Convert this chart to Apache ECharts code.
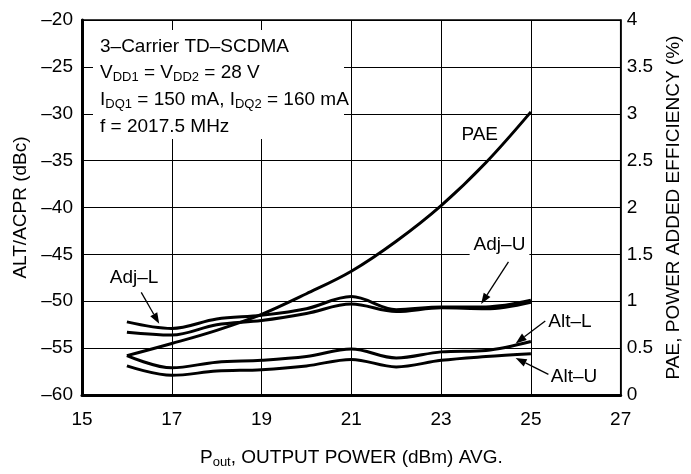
<!DOCTYPE html>
<html><head><meta charset="utf-8">
<script src="https://cdn.jsdelivr.net/npm/echarts@6/dist/echarts.min.js"></script>
<style>html,body{margin:0;padding:0;background:#fff}#c{width:691px;height:474px}</style>
</head><body><div id="c"></div>
<script>
// ---- data ----
const pout = [16, 17, 18, 19, 20, 21, 22, 23, 24, 25];
const adjL = [-52.2, -52.9, -51.9, -51.5, -50.8, -49.5, -50.9, -50.6, -50.6, -49.9];
const adjU = [-53.3, -53.6, -52.5, -52.05, -51.3, -50.3, -51.1, -50.7, -50.8, -50.1];
const altL = [-55.8, -57.1, -56.5, -56.3, -55.9, -55.1, -56.05, -55.4, -55.25, -54.3];
const altU = [-56.9, -57.9, -57.45, -57.3, -56.9, -56.2, -57.0, -56.3, -55.9, -55.6];
const pae  = [0.42, 0.55, 0.69, 0.86, 1.08, 1.32, 1.64, 2.02, 2.48, 3.02];
const xTicks = [15, 17, 19, 21, 23, 25, 27];
const leftTicks = [-60, -55, -50, -45, -40, -35, -30, -25, -20];
const rightTicks = [0, 0.5, 1, 1.5, 2, 2.5, 3, 3.5, 4];

const FF = "'Liberation Sans Narrow', 'Liberation Sans', Arial, sans-serif";
const FS = 19;
const pairs = a => pout.map((x, i) => [x, a[i]]);
const dash = v => String(v).replace('-', '\u2013');

const chart = echarts.init(document.getElementById('c'), null, {renderer: 'canvas'});
const lineSeries = (name, arr, yIdx) => ({
  name, type: 'line', yAxisIndex: yIdx, data: pairs(arr), smooth: 0.35,
  symbol: 'none', lineStyle: {color: '#000', width: 3}, z: 3
});

chart.setOption({
  animation: false,
  grid: {left: 82, right: 65, top: 20, bottom: 71, show: true, borderColor: '#000', borderWidth: 1.5, backgroundColor: 'transparent'},
  xAxis: {
    type: 'value', min: xTicks[0], max: xTicks[xTicks.length - 1],
    axisLine: {show: true, onZero: false, lineStyle: {color: '#000', width: 3}},
    axisTick: {show: false, customValues: xTicks},
    axisLabel: {customValues: xTicks, margin: 15, color: '#000', fontSize: FS, fontFamily: FF},
    splitLine: {show: true, lineStyle: {color: '#000', width: 1}},
    name: '{n|P}{s|out}{n|, OUTPUT POWER (dBm) AVG.}',
    nameLocation: 'middle', nameGap: 52,
    nameTextStyle: {rich: {
      n: {fontSize: FS, fontFamily: FF, color: '#000', lineHeight: 22},
      s: {fontSize: 13, fontFamily: FF, color: '#000', lineHeight: 10, verticalAlign: 'bottom'}
    }}
  },
  yAxis: [{
    type: 'value', position: 'left', min: leftTicks[0], max: leftTicks[leftTicks.length - 1], interval: 5,
    axisLine: {show: true, onZero: false, lineStyle: {color: '#000', width: 3}},
    axisTick: {show: false},
    axisLabel: {margin: 9, color: '#000', fontSize: FS, fontFamily: FF, formatter: dash},
    splitLine: {show: true, lineStyle: {color: '#000', width: 1}},
    name: 'ALT/ACPR (dBc)', nameLocation: 'middle', nameGap: 48, nameRotate: 90,
    nameTextStyle: {fontSize: FS, fontFamily: FF, color: '#000'}
  }, {
    type: 'value', position: 'right', min: rightTicks[0], max: rightTicks[rightTicks.length - 1], interval: 0.5,
    axisLine: {show: true, onZero: false, lineStyle: {color: '#000', width: 1.5}},
    axisTick: {show: false},
    axisLabel: {margin: 6, color: '#000', fontSize: FS, fontFamily: FF},
    splitLine: {show: false},
    name: 'PAE, POWER ADDED EFFICIENCY (%)', nameLocation: 'middle', nameGap: 28, nameRotate: 90,
    nameTextStyle: {fontSize: FS, fontFamily: FF, color: '#000', verticalAlign: 'top'}
  }],
  series: [
    lineSeries('Adj-L', adjL, 0),
    lineSeries('Adj-U', adjU, 0),
    lineSeries('Alt-L', altL, 0),
    lineSeries('Alt-U', altU, 0),
    lineSeries('PAE', pae, 1)
  ]
});

// ---- annotations ----
const px = (x, y) => chart.convertToPixel({gridIndex: 0}, [x, y]);
const g = [];
const richBox = {
  n: {fontSize: FS, fontFamily: FF, fill: '#000', lineHeight: 22},
  s: {fontSize: 13, fontFamily: FF, fill: '#000', lineHeight: 10, verticalAlign: 'bottom'}
};
g.push({type: 'rect', shape: {x: 93, y: 30, width: 251, height: 109}, style: {fill: '#fff'}, z: 1});
const boxLines = [
  '{n|3\u2013Carrier TD\u2013SCDMA}',
  '{n|V}{s|DD1}{n| = V}{s|DD2}{n| = 28 V}',
  '{n|I}{s|DQ1}{n| = 150 mA, I}{s|DQ2}{n| = 160 mA}',
  '{n|f = 2017.5 MHz}'
];
const boxY = [46.7, 73.2, 99.8, 126.5];
boxLines.forEach((t, i) => g.push({type: 'text', x: 100, y: boxY[i], z: 10,
  style: {text: t, rich: richBox, verticalAlign: 'middle', align: 'left', fill: '#000'}}));

function label(text, x, y, bg) {
  const p = px(x, y);
  g.push({type: 'text', x: p[0], y: p[1], z: 10, style: {text, font: FS + 'px ' + FF, fill: '#000',
    align: 'center', verticalAlign: 'middle', backgroundColor: bg ? '#fff' : null, padding: bg ? [0, 4, 3, 4] : 0}});
}
function arrow(x1, y1, x2, y2) {
  const a = px(x1, y1), b = px(x2, y2);
  const dx = b[0] - a[0], dy = b[1] - a[1], L = Math.hypot(dx, dy), ux = dx / L, uy = dy / L;
  const hl = 11, hw = 4;
  const bx = b[0] - ux * hl, by = b[1] - uy * hl;
  g.push({type: 'line', z: 10, shape: {x1: a[0], y1: a[1], x2: bx, y2: by}, style: {stroke: '#000', lineWidth: 1.3}});
  g.push({type: 'polygon', z: 10, shape: {points: [[b[0], b[1]], [bx - uy * hw, by + ux * hw], [bx + uy * hw, by - ux * hw]]}, style: {fill: '#000'}});
}
label('PAE', 23.86, -32.2, false);
label('Adj\u2013U', 24.3, -44.0, true);
arrow(24.5, -45.8, 23.89, -50.3);
label('Adj\u2013L', 16.16, -47.5, false);
arrow(16.32, -49.05, 16.72, -52.4);
label('Alt\u2013L', 25.87, -52.2, false);
arrow(25.32, -52.1, 24.66, -54.5);
label('Alt\u2013U', 25.96, -58.1, false);
arrow(25.39, -57.8, 24.66, -56.05);
chart.setOption({graphic: g});
</script>
</body></html>
